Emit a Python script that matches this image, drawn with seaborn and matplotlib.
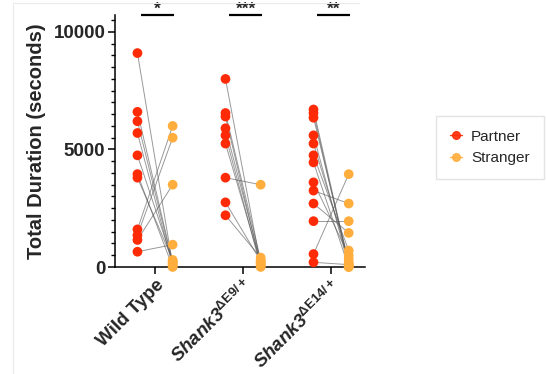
import numpy as np
import pandas as pd
import matplotlib
matplotlib.use("Agg")
import matplotlib.pyplot as plt
import seaborn as sns
from matplotlib.lines import Line2D
from matplotlib.ticker import MultipleLocator

# ---------------- data ----------------
groups = ["Wild Type", "Shank3dE9", "Shank3dE14"]
tick_labels = [
    "Wild Type",
    r"$\mathbfit{Shank3}^{\mathbf{ΔE9/+}}$",
    r"$\mathbfit{Shank3}^{\mathbf{ΔE14/+}}$",
]
conditions = ["Partner", "Stranger"]
significance = ["*", "***", "**"]

wt_partner = [9100, 6600, 6200, 5700, 4750, 3950, 3800, 1600, 1350, 1150, 650]
wt_stranger = [100, 200, 150, 50, 250, 0, 300, 6000, 5500, 3500, 950]

e9_partner = [8000, 6550, 6400, 5900, 5600, 5250, 3800, 2750, 2200]
e9_stranger = [100, 300, 50, 200, 0, 150, 3500, 250, 400]

e14_partner = [6700, 6550, 6350, 5600, 5250, 4750, 4450, 3600, 3250, 2700, 1950, 550, 200]
e14_stranger = [100, 0, 200, 50, 350, 700, 0, 500, 2700, 1450, 1950, 3950, 100]

colors = {"Partner": "#FF2B06", "Stranger": "#FFAE3E"}

# ---------------- tidy table ----------------
rows = []
pair = 0
for gi, (g, p, s) in enumerate(zip(groups,
                                   [wt_partner, e9_partner, e14_partner],
                                   [wt_stranger, e9_stranger, e14_stranger])):
    for pv, sv in zip(p, s):
        rows.append(dict(group=g, condition="Partner", value=pv, pair=pair, xpos=gi - 0.2))
        rows.append(dict(group=g, condition="Stranger", value=sv, pair=pair, xpos=gi + 0.2))
        pair += 1
df = pd.DataFrame(rows)

# ---------------- style ----------------
sns.set_style("ticks")
plt.rcParams["font.family"] = ["Liberation Sans", "DejaVu Sans"]
plt.rcParams["mathtext.fontset"] = "custom"
plt.rcParams["mathtext.rm"] = "Liberation Sans"
plt.rcParams["mathtext.it"] = "Liberation Sans:italic"
plt.rcParams["mathtext.bf"] = "Liberation Sans:bold"
plt.rcParams["mathtext.bfit"] = "Liberation Sans:italic:bold"

fig = plt.figure(figsize=(5.46, 3.74), dpi=100)
ax = fig.add_axes([115 / 546, 1 - 267 / 374, 250 / 546, 252 / 374])

sns.stripplot(data=df, x="group", y="value", hue="condition", order=groups,
              hue_order=conditions, palette=colors, dodge=True, jitter=False,
              size=7, linewidth=0, legend=False, ax=ax, zorder=3)
for c in ax.collections:
    c.set_clip_on(False)

sns.lineplot(data=df, x="xpos", y="value", units="pair", estimator=None,
             sort=False, color="#555555", lw=0.7, alpha=0.6, legend=False,
             ax=ax, zorder=2)
for ln in ax.lines:
    ln.set_clip_on(False)

ax.set_xlim(-0.455, 2.385)
ax.set_ylim(0, 10720)
ax.set_xticks(range(len(groups)))
ax.set_xticklabels(tick_labels, rotation=45, ha="right", rotation_mode="anchor",
                   fontsize=13.5, fontweight="bold")
ax.set_yticks([0, 5000, 10000])
ax.set_yticklabels(["0", "5000", "10000"], fontsize=13.5, fontweight="bold")
ax.yaxis.set_minor_locator(MultipleLocator(500))
ax.set_xlabel("")
ax.set_ylabel("Total Duration (seconds)", fontsize=14.5, fontweight="bold", labelpad=5)

sns.despine(ax=ax)
for sp in ["left", "bottom"]:
    ax.spines[sp].set_linewidth(1.1)
    ax.spines[sp].set_color("black")
ax.tick_params(axis="both", which="major", length=5, width=1.1, color="black", pad=2)
ax.tick_params(axis="y", which="minor", length=3, width=1.0, color="black")

# significance bars
for gi, sig in enumerate(significance):
    ax.plot([gi - 0.16, gi + 0.22], [10700, 10700], color="black", lw=1.6,
            clip_on=False, solid_capstyle="butt")
    ax.text(gi + 0.03, 10650, sig, ha="center", va="bottom", fontsize=12.5,
            fontweight="bold", clip_on=False)

# faint screenshot frame
fig.add_artist(Line2D([13 / 546, 359 / 546], [1 - 3 / 374, 1 - 3 / 374],
                      color="#ebebeb", lw=0.8))
fig.add_artist(Line2D([13 / 546, 13 / 546], [0, 1 - 3 / 374],
                      color="#ebebeb", lw=0.8))

# legend
handles = [Line2D([], [], color=colors[c], marker="o", markersize=5.5, lw=1.0,
                  alpha=0.9, label=c) for c in conditions]
fig.legend(handles=handles, loc="upper left", bbox_to_anchor=(436 / 546, 1 - 116 / 374),
           frameon=True, fancybox=False, edgecolor="#dddddd", fontsize=11,
           handlelength=0.8, handletextpad=0.6, borderpad=0.9, labelspacing=0.5,
           borderaxespad=0)

fig.savefig("out.png", dpi=100)
